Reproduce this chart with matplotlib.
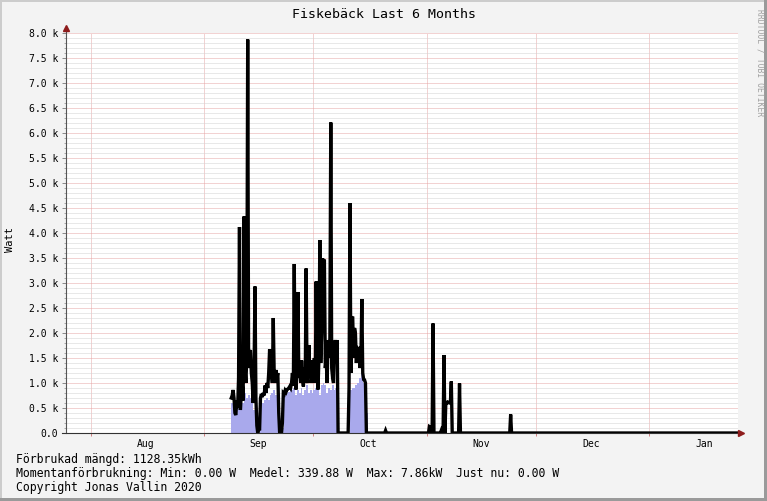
import pandas as pd
import matplotlib
matplotlib.use("Agg")
import matplotlib.pyplot as plt
import matplotlib.dates as mdates
from matplotlib.ticker import FuncFormatter, MultipleLocator
from matplotlib.patches import Rectangle

plt.rcParams['font.family'] = ['DejaVu Sans Mono']

title = "Fiskebäck Last 6 Months"
start = pd.Timestamp("2020-07-25 06:00")
end = pd.Timestamp("2021-01-25 06:00")

# busy period: max power every 6 h from 2020-09-08 12:00 (W)
busy_start = pd.Timestamp("2020-09-08 12:00")
max_w = [700, 750, 860, 700, 400, 360, 650, 500, 1100, 4120,
         460, 800, 1000, 650, 4330, 1300, 1000, 1500, 7870, 1300,
         1600, 1660, 1200, 1000, 600, 1300, 2930, 700, 150, 0,
         100, 50, 700, 780, 720, 800, 750, 950, 800, 1000,
         900, 1200, 1670, 1100, 1200, 1000, 2300, 1200, 1000, 1260,
         1100, 1200, 400, 0, 0, 0, 200, 800, 780, 850,
         820, 870, 880, 900, 930, 900, 1000, 1200, 950, 3380,
         1000, 870, 1300, 2820, 1100, 1360, 1000, 1450, 1100, 930,
         1300, 1000, 3290, 1100, 1000, 1760, 1200, 1450, 1000, 1300,
         1040, 1500, 1000, 3030, 1200, 870, 1500, 3860, 1400, 2000,
         3490, 3400, 3470, 1300, 1460, 1000, 1860, 1500, 1860, 6210,
         1300, 1100, 1000, 1700, 1860, 1400, 1860, 0, 0, 0,
         0, 0, 0, 0, 0, 0, 0, 0, 0, 900,
         4600, 1200, 2300, 2330, 1500, 2100, 2000, 1400, 1700, 1680,
         1690, 1300, 1500, 2680, 1200, 1070, 1060, 1000, 0, 0]
# average power every 12 h from 2020-09-08 12:00 (W)
avg_w = [600, 550, 350, 500, 650, 450, 600, 800, 700, 750,
         700, 650, 450, 500, 100, 0, 550, 600, 650, 700,
         650, 750, 800, 850, 750, 550, 200, 0, 100, 750,
         800, 820, 850, 850, 900, 750, 850, 800, 900, 750,
         850, 950, 800, 850, 800, 850, 900, 950, 750, 950,
         1000, 950, 800, 900, 850, 950, 850, 900, 800, 0,
         0, 0, 0, 0, 0, 850, 900, 900, 950, 1000,
         1100, 1200, 1000, 660, 400, 0]

# later short bursts (max power)
late_times = ["2020-10-20 18:00", "2020-11-01 18:00", "2020-11-02 00:00",
              "2020-11-02 18:00", "2020-11-05 00:00", "2020-11-05 18:00",
              "2020-11-06 06:00", "2020-11-06 12:00", "2020-11-06 18:00",
              "2020-11-07 00:00", "2020-11-07 06:00", "2020-11-07 12:00",
              "2020-11-07 18:00", "2020-11-10 00:00", "2020-11-24 00:00"]
late_max = [50, 130, 120, 2190, 50, 1560, 610, 600, 620, 610, 600, 600,
            1030, 990, 370]

legend_lines = ["Förbrukad mängd: 1128.35kWh",
                "Momentanförbrukning: Min: 0.00 W  Medel: 339.88 W  Max: 7.86kW  Just nu: 0.00 W",
                "Copyright Jonas Vallin 2020"]

idx6 = pd.date_range(busy_start, end, freq="6h")
mx = pd.Series(0.0, index=idx6)
mx.iloc[:len(max_w)] = max_w
mx[pd.to_datetime(late_times)] = late_max

idx12 = pd.date_range(busy_start, periods=len(avg_w), freq="12h")
av = pd.Series(avg_w, index=idx12, dtype=float)

W, H = 767, 501
fig = plt.figure(figsize=(W / 100, H / 100), dpi=100, facecolor="#F3F3F3")
ax = fig.add_axes([66 / W, 1 - 433 / H, 672 / W, 400 / H])
ax.set_facecolor("white")

ax.fill_between(av.index, av.values, step="post", color="#A9A9EC", lw=0, zorder=3)
ax.plot(mx.index, mx.values, color="black", lw=2.4, zorder=4,
        solid_joinstyle="miter")

ax.set_xlim(start, end)
ax.set_ylim(0, 8000)

ax.yaxis.set_major_locator(MultipleLocator(500))
ax.yaxis.set_minor_locator(MultipleLocator(100))
ax.yaxis.set_major_formatter(FuncFormatter(lambda v, p: "0.0" if v == 0 else f"{v/1000:.1f} k"))
ax.xaxis.set_major_locator(mdates.MonthLocator(bymonthday=16))
ax.xaxis.set_major_formatter(mdates.DateFormatter("%b"))
ax.xaxis.set_minor_locator(mdates.MonthLocator(bymonthday=1))

dot = (0, (1, 1))
ax.grid(which="minor", axis="y", color="#D2D2D2", ls=dot, lw=0.72, zorder=1)
ax.grid(which="major", axis="y", color="#E6A6A6", ls=dot, lw=0.72, zorder=1)
ax.grid(which="minor", axis="x", color="#E6A6A6", ls=dot, lw=0.72, zorder=1)
ax.grid(which="major", axis="x", visible=False)

ax.tick_params(axis="x", which="major", length=0, pad=4, labelsize=7)
ax.tick_params(axis="x", which="minor", length=2.5, color="#D08080", width=0.7)
ax.tick_params(axis="y", which="major", length=3, color="#888888", width=0.7, pad=2.5, labelsize=7)
ax.tick_params(axis="y", which="minor", length=1.5, color="#AAAAAA", width=0.7)

for s in ax.spines.values():
    s.set_visible(False)

# axes with arrows
ax.plot([0, 0], [0, 1.0125], transform=ax.transAxes, color="#555555", lw=0.8,
        clip_on=False, zorder=5)
ax.plot([-0.006, 1.004], [0, 0], transform=ax.transAxes, color="#333333", lw=0.8,
        clip_on=False, zorder=5)
ax.plot([0], [1.0125], transform=ax.transAxes, marker="^", ms=4.5, color="#8E1C1C",
        clip_on=False, zorder=6)
ax.plot([1.005], [0], transform=ax.transAxes, marker=">", ms=4.5, color="#8E1C1C",
        clip_on=False, zorder=6)

fig.text(0.5, 1 - 14 / H, title, ha="center", va="center", fontsize=9.5)
fig.text(10 / W, 1 - 240 / H, "Watt", rotation=90, ha="center", va="center", fontsize=7.5)
fig.text(760 / W, 1 - 63 / H, "RRDTOOL / TOBI OETIKER", rotation=270, ha="center",
         va="center", fontsize=5.8, color="#A0A0A0")
for i, line in enumerate(legend_lines):
    fig.text(16 / W, 1 - (463 + 14 * i) / H, line, ha="left", va="baseline", fontsize=8.3)

# frame around the image
fig.patches.append(Rectangle((0, 1 - 2 / H), 1, 2 / H, transform=fig.transFigure,
                             color="#CCCCCC", lw=0))
fig.patches.append(Rectangle((0, 0), 2 / W, 1, transform=fig.transFigure,
                             color="#CCCCCC", lw=0))
fig.patches.append(Rectangle((0, 0), 1, 3 / H, transform=fig.transFigure,
                             color="#9A9A9A", lw=0))
fig.patches.append(Rectangle((1 - 3 / W, 0), 3 / W, 1, transform=fig.transFigure,
                             color="#9A9A9A", lw=0))

fig.savefig("out.png", dpi=100, facecolor=fig.get_facecolor())
